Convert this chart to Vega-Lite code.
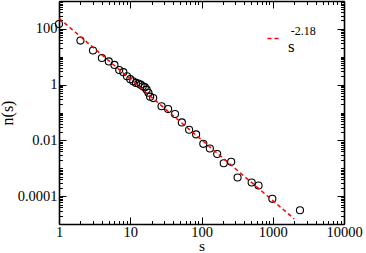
{
  "$schema": "https://vega.github.io/schema/vega-lite/v6.json",
  "width": 285,
  "height": 223,
  "autosize": {"type": "none"},
  "padding": {"left": 59, "top": 1, "right": 22, "bottom": 29},
  "background": "white",
  "config": {
    "view": {"stroke": null},
    "font": "Liberation Serif",
    "text": {"font": "Liberation Serif"},
    "legend": {"labelFont": "Liberation Serif"},
    "axis": {
      "domainColor": "black",
      "domainWidth": 1.6,
      "tickColor": "black",
      "tickWidth": 1,
      "labelColor": "black",
      "titleColor": "black",
      "labelFont": "Liberation Serif",
      "titleFont": "Liberation Serif",
      "labelFontSize": 14.5,
      "titleFontSize": 16,
      "titleFontWeight": "normal",
      "grid": false,
      "labelFlush": false,
      "labelOverlap": false,
      "labelBound": false
    }
  },
  "datasets": {
    "points": [
      {"s": 1, "n": 150},
      {"s": 2, "n": 38},
      {"s": 3, "n": 16.8},
      {"s": 4, "n": 9.0},
      {"s": 5, "n": 6.8},
      {"s": 6, "n": 5.1},
      {"s": 7, "n": 3.35},
      {"s": 8, "n": 2.8},
      {"s": 9, "n": 2.0},
      {"s": 10, "n": 1.57},
      {"s": 11, "n": 1.31},
      {"s": 12, "n": 1.15},
      {"s": 13, "n": 1.1},
      {"s": 14, "n": 1.0},
      {"s": 15, "n": 0.87},
      {"s": 16, "n": 0.81},
      {"s": 17, "n": 0.66},
      {"s": 18, "n": 0.51},
      {"s": 19, "n": 0.37},
      {"s": 21, "n": 0.33},
      {"s": 27.5, "n": 0.168},
      {"s": 34, "n": 0.133},
      {"s": 42.5, "n": 0.088},
      {"s": 53, "n": 0.044},
      {"s": 67, "n": 0.024},
      {"s": 84, "n": 0.0164},
      {"s": 106, "n": 0.0075},
      {"s": 131, "n": 0.0051},
      {"s": 166, "n": 0.00324},
      {"s": 205, "n": 0.00151},
      {"s": 261, "n": 0.0017},
      {"s": 321, "n": 0.000465},
      {"s": 506, "n": 0.000308},
      {"s": 632, "n": 0.000241},
      {"s": 987, "n": 0.0000802},
      {"s": 2410, "n": 0.0000311}
    ],
    "fit": [
      {"s": 1, "n": 240, "series": "fit"},
      {"s": 2000, "n": 0.0000153, "series": "fit"}
    ],
    "exponent": [
      {"label": "-2.18"}
    ]
  },
  "layer": [
    {
      "data": {"name": "points"},
      "mark": {"type": "point", "shape": "circle", "filled": false, "color": "black", "size": 50, "strokeWidth": 1.1, "opacity": 1},
      "encoding": {
        "x": {
          "field": "s", "type": "quantitative",
          "scale": {"type": "log", "domain": [1, 10000], "nice": false},
          "title": "s",
          "axis": {
            "orient": "bottom",
            "values": [1, 10, 100, 1000, 10000],
            "format": "~g",
            "ticks": false,
            "labelPadding": 1.5,
            "titlePadding": -0.5,
            "titleFontSize": 15.5
          }
        },
        "y": {
          "field": "n", "type": "quantitative",
          "scale": {"type": "log", "domain": [0.00001, 1000], "nice": false},
          "title": "n(s)",
          "axis": {
            "orient": "left",
            "values": [0.0001, 0.01, 1, 100],
            "format": "~g",
            "ticks": false,
            "labelPadding": 2,
            "titlePadding": 2
          }
        }
      }
    },
    {
      "data": {"name": "fit"},
      "mark": {"type": "line", "strokeDash": [4, 3], "strokeWidth": 1.5},
      "encoding": {
        "x": {
          "field": "s", "type": "quantitative",
          "axis": {
            "orient": "top", "labels": false, "title": null,
            "values": [1,2,3,4,5,6,7,8,9,10,20,30,40,50,60,70,80,90,100,200,300,400,500,600,700,800,900,1000,2000,3000,4000,5000,6000,7000,8000,9000,10000],
            "tickSize": {"condition": {"test": "abs(log(datum.value)/LN10 - round(log(datum.value)/LN10)) < 0.001", "value": -7}, "value": -3.5}
          }
        },
        "y": {
          "field": "n", "type": "quantitative",
          "axis": {
            "orient": "right", "labels": false, "title": null,
            "values": [0.00001,0.00002,0.00003,0.00004,0.00005,0.00006,0.00007,0.00008,0.00009,0.0001,0.0002,0.0003,0.0004,0.0005,0.0006,0.0007,0.0008,0.0009,0.001,0.002,0.003,0.004,0.005,0.006,0.007,0.008,0.009,0.01,0.02,0.03,0.04,0.05,0.06,0.07,0.08,0.09,0.1,0.2,0.3,0.4,0.5,0.6,0.7,0.8,0.9,1,2,3,4,5,6,7,8,9,10,20,30,40,50,60,70,80,90,100,200,300,400,500,600,700,800,900,1000],
            "tickSize": {"condition": {"test": "abs(log(datum.value)/LN10 - round(log(datum.value)/LN10)) < 0.001 && round(log(datum.value)/LN10) % 2 == 0", "value": -7}, "value": -3.5}
          }
        },
        "color": {
          "field": "series", "type": "nominal",
          "scale": {"range": ["#ff0000"]},
          "legend": {
            "orient": "none", "legendX": 207, "legendY": 29,
            "title": null,
            "symbolType": "stroke", "symbolSize": 196, "symbolDash": [4, 3], "symbolStrokeWidth": 1.5,
            "labelFont": "Liberation Serif", "labelFontSize": 17, "labelColor": "black",
            "labelExpr": "'s'", "labelBaseline": "top", "labelOffset": 5
          }
        }
      }
    },
    {
      "data": {"name": "exponent"},
      "mark": {"type": "text", "fontSize": 12, "align": "left", "baseline": "middle", "font": "Liberation Serif", "color": "black"},
      "encoding": {
        "text": {"field": "label", "type": "nominal"},
        "x": {
          "datum": 1792, "type": "quantitative",
          "axis": {
            "orient": "bottom", "labels": false, "title": null, "domain": false,
            "values": [1,2,3,4,5,6,7,8,9,10,20,30,40,50,60,70,80,90,100,200,300,400,500,600,700,800,900,1000,2000,3000,4000,5000,6000,7000,8000,9000,10000],
            "tickSize": {"condition": {"test": "abs(log(datum.value)/LN10 - round(log(datum.value)/LN10)) < 0.001", "value": -7}, "value": -3.5}
          }
        },
        "y": {
          "datum": 85, "type": "quantitative",
          "axis": {
            "orient": "left", "labels": false, "title": null, "domain": false,
            "values": [0.00001,0.00002,0.00003,0.00004,0.00005,0.00006,0.00007,0.00008,0.00009,0.0001,0.0002,0.0003,0.0004,0.0005,0.0006,0.0007,0.0008,0.0009,0.001,0.002,0.003,0.004,0.005,0.006,0.007,0.008,0.009,0.01,0.02,0.03,0.04,0.05,0.06,0.07,0.08,0.09,0.1,0.2,0.3,0.4,0.5,0.6,0.7,0.8,0.9,1,2,3,4,5,6,7,8,9,10,20,30,40,50,60,70,80,90,100,200,300,400,500,600,700,800,900,1000],
            "tickSize": {"condition": {"test": "abs(log(datum.value)/LN10 - round(log(datum.value)/LN10)) < 0.001 && round(log(datum.value)/LN10) % 2 == 0", "value": -7}, "value": -3.5}
          }
        }
      }
    }
  ],
  "resolve": {"axis": {"x": "independent", "y": "independent"}}
}
